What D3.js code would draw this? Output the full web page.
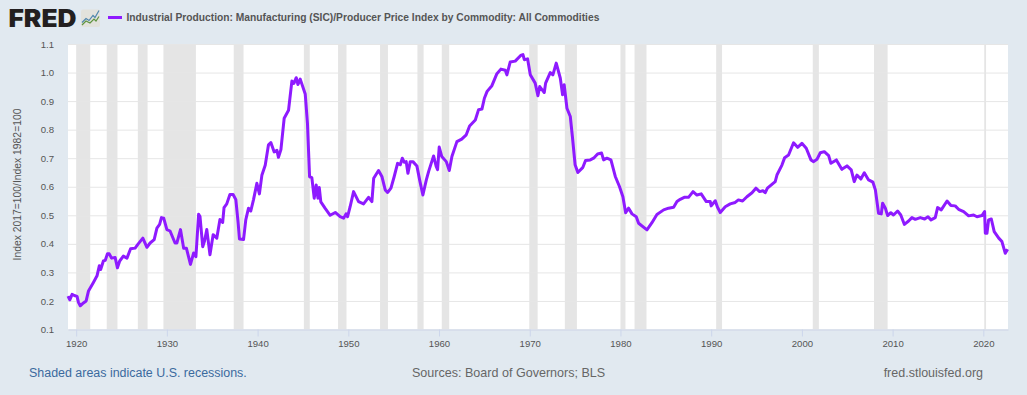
<!DOCTYPE html>
<html>
<head>
<meta charset="utf-8">
<script src="https://cdn.jsdelivr.net/npm/d3@7"></script>
<style>
  html, body { margin: 0; padding: 0; background: #e1e9f0; overflow: hidden; }
  svg { display: block; }
  text { font-family: "Liberation Sans", Arial, sans-serif; }
</style>
</head>
<body>
<svg id="chart" width="1027" height="395"></svg>
<script>
const TITLE = 'Industrial Production: Manufacturing (SIC)/Producer Price Index by Commodity: All Commodities';
const Y_LABEL = 'Index 2017=100/Index 1982=100';
const X_TICKS = [1920, 1930, 1940, 1950, 1960, 1970, 1980, 1990, 2000, 2010, 2020];
const Y_TICKS = [0.1, 0.2, 0.3, 0.4, 0.5, 0.6, 0.7, 0.8, 0.9, 1.0, 1.1];

// NBER recessions, decimal years
const RECESSIONS = [
  [1920.0, 1921.55], [1923.37, 1924.55], [1926.8, 1927.87], [1929.62, 1933.2],
  [1937.37, 1938.45], [1945.1, 1945.75], [1948.87, 1949.8], [1953.5, 1954.37],
  [1957.62, 1958.3], [1960.3, 1961.12], [1969.95, 1970.87], [1973.87, 1975.2],
  [1980.0, 1980.55], [1981.55, 1982.87], [1990.55, 1991.2], [2001.2, 2001.87],
  [2007.95, 2009.45], [2020.1, 2020.3],
];

const YEARS = [
  1919.1, 1919.3, 1919.55, 1919.8, 1920.1, 1920.25, 1920.45, 1920.8, 1921.1, 1921.36, 1921.9, 1922.3,
  1922.55, 1922.7, 1923.0, 1923.2, 1923.45, 1923.65, 1923.9, 1924.3, 1924.55, 1924.8, 1925.2, 1925.6,
  1926.0, 1926.5, 1926.8, 1927.35, 1927.8, 1928.15, 1928.6, 1928.9, 1929.2, 1929.4, 1929.65, 1930.0,
  1930.35, 1930.9, 1931.1, 1931.5, 1931.85, 1932.15, 1932.6, 1932.95, 1933.2, 1933.5, 1933.65, 1933.95,
  1934.15, 1934.4, 1934.75, 1935.1, 1935.5, 1935.85, 1936.15, 1936.3, 1936.6, 1936.95, 1937.3, 1937.6,
  1937.85, 1938.0, 1938.45, 1938.7, 1939.0, 1939.25, 1939.55, 1939.92, 1940.2, 1940.47, 1940.84, 1941.2,
  1941.46, 1941.83, 1942.13, 1942.3, 1942.57, 1942.93, 1943.41, 1943.78, 1944.0, 1944.26, 1944.45, 1944.7,
  1945.25, 1945.5, 1945.73, 1945.98, 1946.24, 1946.46, 1946.65, 1946.8, 1946.97, 1947.45, 1948.0, 1948.56,
  1949.1, 1949.48, 1949.75, 1949.92, 1950.2, 1950.58, 1951.13, 1951.68, 1952.23, 1952.6, 1952.8, 1953.33,
  1953.7, 1954.07, 1954.33, 1954.7, 1955.06, 1955.43, 1955.73, 1955.95, 1956.16, 1956.38, 1956.57, 1956.83,
  1957.12, 1957.56, 1957.86, 1958.22, 1958.6, 1958.85, 1959.4, 1959.7, 1959.84, 1960.02, 1960.3, 1960.8,
  1961.13, 1961.42, 1961.97, 1962.5, 1963.0, 1963.37, 1964.0, 1964.36, 1964.73, 1965.0, 1965.3, 1965.83,
  1966.38, 1966.82, 1967.3, 1967.48, 1967.85, 1968.4, 1969.0, 1969.25, 1969.4, 1969.76, 1970.06, 1970.6,
  1970.9, 1971.1, 1971.6, 1971.75, 1972.26, 1972.55, 1972.92, 1973.37, 1973.62, 1973.8, 1974.1, 1974.47,
  1974.7, 1975.0, 1975.3, 1975.86, 1976.15, 1976.67, 1977.04, 1977.48, 1977.92, 1978.14, 1978.5, 1978.95,
  1979.43, 1979.9, 1980.27, 1980.57, 1980.9, 1981.27, 1981.74, 1982.0, 1982.92, 1983.47, 1984.02, 1984.76,
  1985.3, 1985.86, 1986.23, 1986.59, 1987.03, 1987.5, 1988.0, 1988.43, 1988.9, 1989.46, 1989.9, 1990.0,
  1990.45, 1990.7, 1991.0, 1991.55, 1992.1, 1992.65, 1993.0, 1993.46, 1993.94, 1994.5, 1994.93, 1995.34,
  1995.7, 1995.95, 1996.2, 1997.06, 1997.25, 1997.8, 1998.1, 1998.53, 1999.08, 1999.53, 2000.0, 2000.48,
  2001.0, 2001.3, 2001.66, 2002.03, 2002.47, 2002.95, 2003.2, 2003.8, 2004.4, 2004.97, 2005.44, 2005.77,
  2006.07, 2006.5, 2006.88, 2007.35, 2007.83, 2008.1, 2008.45, 2008.75, 2008.9, 2009.2, 2009.45, 2009.8,
  2010.1, 2010.55, 2010.9, 2011.3, 2011.76, 2012.13, 2012.5, 2013.05, 2013.53, 2013.9, 2014.23, 2014.7,
  2014.96, 2015.36, 2016.0, 2016.43, 2016.9, 2017.27, 2017.83, 2018.38, 2018.93, 2019.3, 2019.85, 2020.14,
  2020.22, 2020.4, 2020.58, 2020.88, 2021.2, 2021.7, 2022.05, 2022.42, 2022.68,
];

const VALUES = [
  0.217, 0.204, 0.223, 0.219, 0.216, 0.195, 0.183, 0.193, 0.2, 0.235, 0.265, 0.288,
  0.323, 0.31, 0.34, 0.342, 0.365, 0.365, 0.35, 0.352, 0.316, 0.34, 0.357, 0.35,
  0.383, 0.385, 0.398, 0.42, 0.388, 0.403, 0.415, 0.455, 0.468, 0.492, 0.49, 0.45,
  0.445, 0.403, 0.403, 0.45, 0.385, 0.385, 0.328, 0.368, 0.355, 0.504, 0.496, 0.39,
  0.41, 0.45, 0.362, 0.432, 0.42, 0.485, 0.475, 0.527, 0.54, 0.573, 0.573, 0.555,
  0.475, 0.417, 0.415, 0.485, 0.525, 0.515, 0.555, 0.612, 0.575, 0.64, 0.675, 0.747,
  0.755, 0.722, 0.728, 0.703, 0.73, 0.84, 0.868, 0.97, 0.962, 0.982, 0.958, 0.977,
  0.925, 0.82, 0.635, 0.632, 0.56, 0.606, 0.56, 0.597, 0.547, 0.524, 0.5, 0.51,
  0.495, 0.49, 0.505, 0.495, 0.53, 0.583, 0.548, 0.54, 0.563, 0.548, 0.63, 0.657,
  0.636, 0.589, 0.58, 0.595, 0.636, 0.682, 0.677, 0.7, 0.686, 0.688, 0.647, 0.688,
  0.688, 0.673, 0.624, 0.571, 0.624, 0.653, 0.708, 0.67, 0.66, 0.739, 0.706, 0.688,
  0.657, 0.706, 0.758, 0.767, 0.782, 0.813, 0.834, 0.87, 0.872, 0.91, 0.934, 0.954,
  0.996, 1.012, 1.008, 0.992, 1.037, 1.04, 1.06, 1.063, 1.045, 1.048, 0.992, 0.963,
  0.919, 0.951, 0.93, 0.963, 1.0, 0.992, 1.033, 0.98, 0.922, 0.957, 0.875, 0.846,
  0.776, 0.677, 0.65, 0.668, 0.692, 0.694, 0.7, 0.715, 0.718, 0.694, 0.7, 0.694,
  0.636, 0.6, 0.565, 0.509, 0.525, 0.505, 0.495, 0.472, 0.449, 0.474, 0.503, 0.519,
  0.525, 0.528, 0.548, 0.556, 0.563, 0.563, 0.583, 0.571, 0.575, 0.548, 0.548, 0.533,
  0.551, 0.528, 0.51, 0.53, 0.54, 0.545, 0.554, 0.55, 0.565, 0.579, 0.595, 0.583,
  0.586, 0.579, 0.595, 0.618, 0.641, 0.676, 0.702, 0.711, 0.754, 0.738, 0.752, 0.735,
  0.694, 0.688, 0.696, 0.719, 0.723, 0.709, 0.682, 0.694, 0.661, 0.673, 0.659, 0.618,
  0.641, 0.627, 0.649, 0.624, 0.616, 0.589, 0.507, 0.505, 0.542, 0.525, 0.499, 0.509,
  0.501, 0.515, 0.501, 0.468, 0.48, 0.492, 0.486, 0.492, 0.487, 0.495, 0.484, 0.492,
  0.527, 0.519, 0.55, 0.534, 0.533, 0.521, 0.513, 0.498, 0.501, 0.495, 0.499, 0.513,
  0.437, 0.437, 0.484, 0.487, 0.443, 0.42, 0.408, 0.367, 0.381,
];

const BG = '#e1e9f0';
const LINE = '#8e1aff';

const SVG = d3.select('#chart');
SVG.append('rect').attr('width', 1027).attr('height', 395).attr('fill', BG);

const X_SCALE = d3.scaleLinear().domain([1919.1, 2022.72]).range([68, 1008]);
const Y_SCALE = d3.scaleLinear().domain([0.1, 1.1]).range([329.5, 44]);

// plot background
SVG.append('rect')
  .attr('x', X_SCALE.range()[0])
  .attr('y', Y_SCALE(1.1))
  .attr('width', X_SCALE.range()[1] - X_SCALE.range()[0])
  .attr('height', Y_SCALE(0.1) - Y_SCALE(1.1))
  .attr('fill', '#fff');

// recessions
SVG.append('g')
  .selectAll('rect')
  .data(RECESSIONS)
  .join('rect')
  .attr('x', (d) => X_SCALE(d[0]))
  .attr('y', Y_SCALE(1.1))
  .attr('width', (d) => X_SCALE(d[1]) - X_SCALE(d[0]))
  .attr('height', Y_SCALE(0.1) - Y_SCALE(1.1))
  .attr('fill', '#e5e5e5');

// y axis with gridlines
const Y_AXIS = d3
  .axisLeft(Y_SCALE)
  .tickValues(Y_TICKS)
  .tickFormat(d3.format('.1f'))
  .tickSize(-(X_SCALE.range()[1] - X_SCALE.range()[0]))
  .tickPadding(14);
const Y_GROUP = SVG.append('g').attr('transform', `translate(${X_SCALE.range()[0]},0)`);
Y_AXIS(Y_GROUP);
Y_GROUP.select('.domain').remove();
Y_GROUP.selectAll('.tick line').attr('stroke', '#e6e6e6').attr('stroke-width', 1);
Y_GROUP.selectAll('.tick text')
  .attr('fill', '#555')
  .style('font-size', '9.6px');

// x axis
const X_AXIS = d3
  .axisBottom(X_SCALE)
  .tickValues(X_TICKS)
  .tickFormat(d3.format('d'))
  .tickSize(7)
  .tickPadding(4)
  .tickSizeOuter(0);
const X_GROUP = SVG.append('g').attr('transform', `translate(0,${Y_SCALE(0.1)})`);
X_AXIS(X_GROUP);
X_GROUP.select('.domain').attr('stroke', '#ccd6eb');
X_GROUP.selectAll('.tick line').attr('stroke', '#ccd6eb');
X_GROUP.selectAll('.tick text')
  .attr('fill', '#555')
  .style('font-size', '9.6px');

// the series
SVG.append('path')
  .datum(YEARS.map((y, i) => [y, VALUES[i]]))
  .attr('d', d3.line().x((d) => X_SCALE(d[0])).y((d) => Y_SCALE(d[1])))
  .attr('fill', 'none')
  .attr('stroke', LINE)
  .attr('stroke-width', 3)
  .attr('stroke-linejoin', 'round');

// y axis title
SVG.append('text')
  .attr('transform', 'translate(21,184.5) rotate(-90)')
  .attr('text-anchor', 'middle')
  .attr('fill', '#555')
  .style('font-size', '10.35px')
  .text(Y_LABEL);

// legend
SVG.append('line')
  .attr('x1', 108).attr('x2', 122)
  .attr('y1', 17.5).attr('y2', 17.5)
  .attr('stroke', LINE)
  .attr('stroke-width', 3);
SVG.append('text')
  .attr('x', 126.5).attr('y', 21)
  .attr('fill', '#555')
  .style('font-size', '10.26px')
  .style('font-weight', 'bold')
  .text(TITLE);

// logo
SVG.append('text')
  .attr('x', 8.5).attr('y', 27)
  .attr('fill', '#231f20')
  .attr('textLength', 68)
  .attr('lengthAdjust', 'spacingAndGlyphs')
  .style('font-family', 'Inter, "Liberation Sans", sans-serif')
  .style('font-size', '24px')
  .style('font-weight', 900)
  .text('FRED');
const ICON = SVG.append('g').attr('transform', 'translate(81,9.5)');
ICON.append('rect').attr('width', 19).attr('height', 17.5).attr('rx', 2).attr('fill', '#e2e2dc');
ICON.append('path').attr('d', 'M1,13 L5,9 L8,11 L12,6 L14,8 L18,1').attr('fill', 'none').attr('stroke', '#4f86ad').attr('stroke-width', 1.2);
ICON.append('path').attr('d', 'M1,15.5 L5,11.5 L9,13.5 L13,9.5 L15,11.5 L18,7').attr('fill', 'none').attr('stroke', '#5f9440').attr('stroke-width', 1.2);

// footer
SVG.append('text')
  .attr('x', 29).attr('y', 377)
  .attr('fill', '#3b6a9e')
  .style('font-size', '12.45px')
  .text('Shaded areas indicate U.S. recessions.');
SVG.append('text')
  .attr('x', 412).attr('y', 377)
  .attr('fill', '#666')
  .style('font-size', '12.55px')
  .text('Sources: Board of Governors; BLS');
SVG.append('text')
  .attr('x', 983).attr('y', 377)
  .attr('text-anchor', 'end')
  .attr('fill', '#666')
  .style('font-size', '12.5px')
  .text('fred.stlouisfed.org');
</script>
</body>
</html>
